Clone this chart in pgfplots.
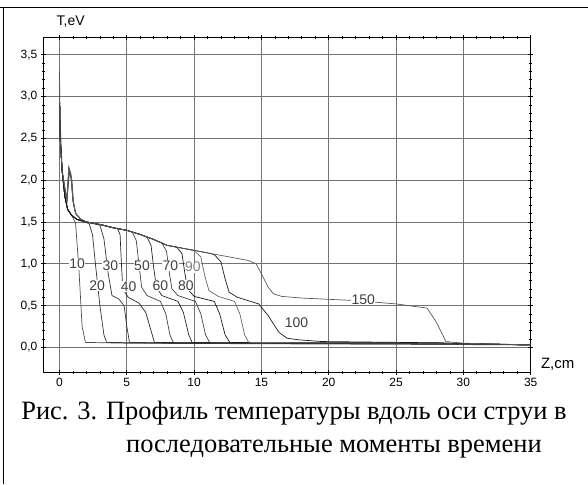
\documentclass[border=0pt]{standalone}
\usepackage{fontspec}
\setmainfont{Liberation Serif}
\newfontfamily\arial{Liberation Sans}
\usepackage{pgfplots}
\pgfplotsset{compat=1.18}
\begin{document}
\begin{tikzpicture}[x=1pt,y=1pt]
\path (0,0) rectangle (588,485);
\draw[line width=0.8pt] (3,0) -- (3,478);
\draw[line width=0.8pt] (0,478) -- (588,478);
\begin{axis}[
  at={(43pt,112pt)}, anchor=south west,
  scale only axis, width=488pt, height=335pt,
  xmin=-1.2, xmax=35, ymin=-0.3, ymax=3.7,
  xtick={0,5,...,35}, ytick={0,0.5,...,3.5},
  minor x tick num=4, minor y tick num=4,
  tick align=center,
  major tick length=5pt, minor tick length=3pt,
  grid=major,
  major grid style={black!55, line width=0.7pt},
  axis line style={line width=0.9pt},
  every tick/.style={black, line width=0.7pt},
  tick label style={font=\arial\fontsize{12}{14}\selectfont},
  /pgf/number format/assume math mode=true,
  yticklabel style={/pgf/number format/.cd, fixed, fixed zerofill, precision=1, use comma},
  xticklabel style={/pgf/number format/.cd, fixed, precision=0},
  xlabel={Z,cm},
  xlabel style={font=\arial\fontsize{15}{17}\selectfont, at={(axis description cs:1.014,0.024)}, anchor=west},
  ylabel={T,eV},
  ylabel style={font=\arial\fontsize{14}{16}\selectfont, rotate=-90, at={(axis description cs:0.02,1.048)}, anchor=west},
  clip=true,
]
% 10
\addplot[black!70, line width=0.7pt] coordinates {(0,3.3) (0.05,2.7) (0.2,2.15) (0.4,1.82) (0.6,1.66) (0.9,1.58) (1.19,1.49) (1.43,0.97) (1.68,0.25) (1.93,0.06) (5,0.05) (20,0.04) (35,0.03)};
% 20
\addplot[black!80, line width=0.7pt] coordinates {(0,3.0) (0.05,2.5) (0.2,2.1) (0.4,1.8) (0.6,1.65) (0.9,1.58) (1.3,1.53) (2.2,1.48) (2.45,1.35) (2.7,0.95) (3.0,0.5) (3.3,0.15) (3.5,0.06) (8,0.05) (28,0.045) (35,0.03)};
% 30
\addplot[black!80, line width=0.7pt] coordinates {(0,3.0) (0.05,2.5) (0.2,2.1) (0.35,1.95) (0.55,1.78) (0.7,2.15) (0.85,2.05) (1.0,1.75) (1.2,1.6) (1.6,1.53) (2,1.5) (3.0,1.46) (3.3,1.3) (3.6,0.9) (3.9,0.62) (4.4,0.58) (4.8,0.5) (5.0,0.25) (5.2,0.06) (10,0.05) (28,0.045) (35,0.03)};
% 40
\addplot[black!85, line width=0.7pt] coordinates {(0,3.0) (0.05,2.5) (0.2,2.1) (0.4,1.8) (0.6,1.65) (0.9,1.58) (1.3,1.53) (2,1.5) (3,1.47) (4,1.43) (4.3,1.42) (4.5,1.35) (4.6,1.0) (4.7,0.7) (5.1,0.6) (5.9,0.53) (6.4,0.42) (6.8,0.2) (7.05,0.06) (12,0.055) (28,0.05) (35,0.03)};
% 50
\addplot[black!75, line width=0.7pt] coordinates {(0,3.0) (0.05,2.5) (0.2,2.1) (0.35,1.95) (0.55,1.75) (0.72,2.1) (0.9,2.0) (1.0,1.75) (1.2,1.6) (1.6,1.53) (2,1.5) (3,1.47) (4,1.43) (5,1.4) (5.4,1.38) (5.7,1.28) (5.9,1.0) (6.1,0.72) (6.5,0.62) (7.5,0.55) (7.9,0.4) (8.2,0.15) (8.45,0.06) (14,0.055) (28,0.05) (35,0.03)};
% 60
\addplot[black!85, line width=0.7pt] coordinates {(0,3.0) (0.05,2.5) (0.2,2.1) (0.4,1.8) (0.6,1.65) (0.9,1.58) (1.3,1.53) (2,1.5) (3,1.47) (4,1.43) (5,1.4) (6,1.35) (6.5,1.32) (6.8,1.22) (7.0,0.95) (7.2,0.72) (7.6,0.62) (8.8,0.55) (9.2,0.42) (9.6,0.15) (9.85,0.06) (15,0.055) (28,0.05) (35,0.03)};
% 70
\addplot[black!75, line width=0.7pt] coordinates {(0,3.0) (0.05,2.5) (0.2,2.1) (0.35,1.95) (0.55,1.75) (0.75,2.12) (0.92,2.0) (1.05,1.72) (1.2,1.6) (1.6,1.53) (2,1.5) (3,1.47) (4,1.43) (5,1.4) (6,1.35) (7,1.29) (7.6,1.25) (7.95,1.15) (8.15,0.9) (8.35,0.7) (8.8,0.62) (10.1,0.55) (10.5,0.4) (10.85,0.15) (11.15,0.06) (16,0.055) (28,0.05) (35,0.03)};
% 80
\addplot[black!90, line width=0.7pt] coordinates {(0,3.0) (0.05,2.5) (0.2,2.1) (0.4,1.8) (0.6,1.65) (0.9,1.58) (1.3,1.53) (2,1.5) (3,1.47) (4,1.43) (5,1.4) (6,1.35) (7,1.29) (8,1.22) (8.7,1.2) (9.1,1.12) (9.3,0.9) (9.5,0.7) (10.0,0.61) (11.5,0.55) (11.9,0.4) (12.3,0.15) (12.65,0.06) (18,0.055) (28,0.05) (35,0.03)};
% 90
\addplot[black!60, line width=0.7pt] coordinates {(0,3.0) (0.05,2.5) (0.2,2.1) (0.35,1.95) (0.55,1.75) (0.68,2.15) (0.85,2.08) (1.0,1.78) (1.2,1.6) (1.6,1.53) (2,1.5) (3,1.47) (4,1.43) (5,1.4) (6,1.35) (7,1.29) (8,1.22) (9,1.19) (10.0,1.16) (10.5,1.08) (10.8,0.85) (11.1,0.68) (11.8,0.61) (13.0,0.55) (13.4,0.4) (13.75,0.15) (14.05,0.06) (20,0.055) (28,0.05) (35,0.03)};
% 100
\addplot[black!90, line width=0.7pt] coordinates {(0,3.0) (0.05,2.5) (0.2,2.1) (0.4,1.8) (0.6,1.65) (0.9,1.58) (1.3,1.53) (2,1.5) (3,1.47) (4,1.43) (5,1.4) (6,1.35) (7,1.29) (8,1.22) (9,1.19) (10,1.16) (11,1.13) (11.5,1.11) (12.0,1.02) (12.3,0.82) (12.6,0.66) (13.2,0.6) (14.8,0.52) (15.5,0.38) (16.3,0.18) (16.9,0.11) (17.8,0.09) (19.5,0.07) (28,0.055) (35,0.03)};
% 150
\addplot[black!65, line width=0.7pt] coordinates {(0,3.0) (0.05,2.5) (0.2,2.1) (0.35,1.95) (0.55,1.75) (0.7,2.15) (0.85,2.05) (1.0,1.75) (1.2,1.6) (1.6,1.53) (2,1.5) (3,1.47) (4,1.43) (5,1.4) (6,1.35) (7,1.29) (8,1.22) (9,1.19) (10,1.16) (11,1.13) (12,1.1) (13,1.07) (14,1.04) (14.6,1.0) (15.0,0.88) (15.5,0.72) (15.9,0.64) (16.5,0.61) (18,0.59) (22,0.56) (25,0.52) (27.3,0.47) (28.0,0.3) (28.7,0.07) (30,0.05) (35,0.03)};
% labels
\begin{scope}[every node/.style={font=\arial\fontsize{14}{16}\selectfont, text=black!75, fill=white, inner sep=0.5pt}]
\node at (axis cs:1.31,0.995) {10};
\node at (axis cs:2.79,0.735) {20};
\node at (axis cs:3.78,0.975) {30};
\node at (axis cs:5.14,0.727) {40};
\node at (axis cs:6.13,0.975) {50};
\node at (axis cs:7.49,0.735) {60};
\node at (axis cs:8.23,0.975) {70};
\node at (axis cs:9.39,0.735) {80};
\node[text=black!50] at (axis cs:9.91,0.96) {90};
\node at (axis cs:17.6,0.29) {100};
\node at (axis cs:22.56,0.57) {150};
\end{scope}
\end{axis}
\node[anchor=base, font=\fontsize{26.5}{30}\selectfont] at (294,65) {Рис. 3. Профиль температуры вдоль оси струи в};
\node[anchor=base, font=\fontsize{26.5}{30}\selectfont] at (334,32) {последовательные моменты времени};
\end{tikzpicture}
\end{document}
